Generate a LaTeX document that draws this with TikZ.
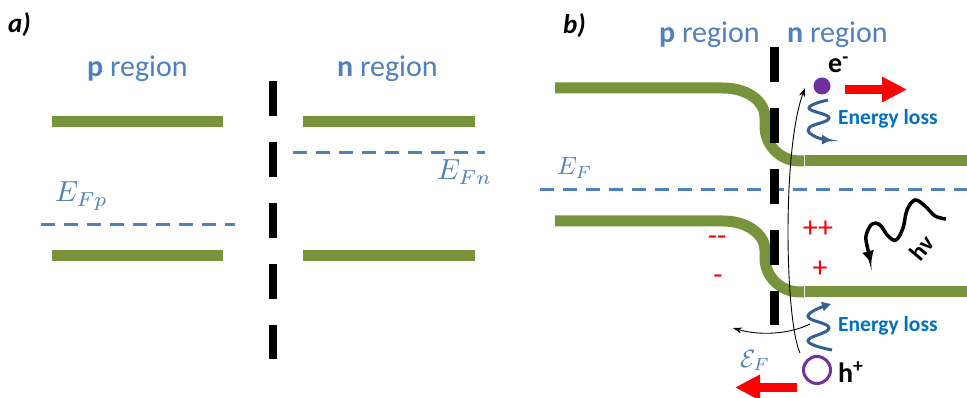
\documentclass[tikz,border=0pt]{standalone}
\usepackage{graphicx}
\usepackage{fontspec}
\setmainfont{Carlito}
\usetikzlibrary{arrows.meta}
\definecolor{bandgreen}{RGB}{119,147,60}
\definecolor{labelblue}{RGB}{79,129,189}
\definecolor{lossblue}{RGB}{0,112,192}
\definecolor{wiggleblue}{RGB}{54,96,146}
\definecolor{carrierpurple}{RGB}{112,48,160}
\begin{document}
\begin{tikzpicture}[x=1pt,y=-1pt,
  band/.style={bandgreen, line width=11pt},
  fermi/.style={labelblue, line width=3pt, dash pattern=on 14pt off 9pt},
  junction/.style={black, line width=8.5pt, dash pattern=on 35pt off 26pt},
  region/.style={labelblue, font=\fontsize{30}{36}\selectfont, anchor=base west, inner sep=0pt},
  panel/.style={font=\fontsize{27}{32}\selectfont\bfseries\itshape, anchor=base west, inner sep=0pt},
  loss/.style={lossblue, font=\fontsize{21.5}{26}\selectfont\bfseries, anchor=base west, inner sep=0pt},
  wiggle/.style={wiggleblue, line width=3pt, -{Triangle[length=9pt,width=9pt]}},
  redarrow/.style={red, line width=9pt, -{Triangle[length=25pt,width=24pt]}},
  thinarrow/.style={black, line width=0.9pt, -{Stealth[length=9pt,width=6pt]}},
  charge/.style={red, font=\fontsize{30}{36}\selectfont, inner sep=0pt},
  carrier/.style={font=\fontsize{28}{32}\selectfont\bfseries, anchor=base west, inner sep=0pt},
  mathlbl/.style={labelblue, font=\fontsize{10}{12}\selectfont, anchor=base west, inner sep=0pt},
]
\useasboundingbox[fill=white] (0,0) rectangle (967,398);

% ---------- panel a ----------
\node[panel] (la) at (8,33) {a)};
\node[region] (pa) at (87,77) {\textbf{p} region};
\node[region] (na) at (337,77) {\textbf{n} region};
\draw[band] (52,122) -- (223,122);
\draw[band] (52,256) -- (223,256);
\draw[band] (303,122) -- (475,122);
\draw[band] (303,256) -- (475,256);
\draw[fermi] (41,225) -- (235,225);
\draw[fermi] (293,153) -- (485,153);
\node[mathlbl] (efp) at (55,202) {\scalebox{2.9}{$E_{Fp}$}};
\node[mathlbl] (efn) at (437,180) {\scalebox{2.9}{$E_{Fn}$}};
\draw[junction] (273,81) -- (273,359);

% ---------- panel b ----------
\node[panel] (lb) at (563,34) {b)};
\node[region] (pb) at (659,43) {\textbf{p} region};
\node[region] (nb) at (787,43) {\textbf{n} region};
\draw[band] (555,88) -- (723,88) .. controls (748,88) and (765,102) .. (765,117) -- (765,126)
  .. controls (765,146) and (781,161) .. (800,161) -- (804,161);
\draw[band] (805,161) -- (967,161);
\draw[band] (555,221) -- (723,221) .. controls (748,221) and (765,235) .. (765,250) -- (765,258)
  .. controls (765,277) and (781,292) .. (800,292) -- (804,292);
\draw[band] (805,292) -- (967,292);
\draw[fermi] (540,190) -- (967,190);
\node[mathlbl] (ef) at (557,175) {\scalebox{2.5}{$E_F$}};
\draw[junction] (774.5,47) -- (774.5,325);

% carriers
\node[circle, fill=carrierpurple, minimum size=17pt, inner sep=0pt] (electron) at (822,86) {};
\node[circle, draw=carrierpurple, line width=3pt, minimum size=27pt, inner sep=0pt] (hole) at (817,370) {};
\node[carrier] (elab) at (828,73) {e\textsuperscript{-}};
\node[carrier] (hlab) at (838,382) {h\textsuperscript{+}};

% energy loss
\draw[wiggle] plot[smooth, tension=0.8] coordinates {(828,100) (809,108) (829,118) (809,128) (816,137) (831,140)};
\node[loss] (loss1) at (838,125) {Energy loss};
\draw[wiggle] plot[smooth, tension=0.8] coordinates {(832,350) (808,341) (829,328) (808,316) (831,304)};
\node[loss] (loss2) at (838,331) {Energy loss};

% red arrows
\coordinate (eR0) at (845,89.5);
\coordinate (eR1) at (907,89.5);
\coordinate (hR0) at (797,387.5);
\coordinate (hR1) at (735,387.5);
\draw[redarrow] (eR0) -- (eR1);
\draw[redarrow] (hR0) -- (hR1);

% thin arrows
\coordinate (c0) at (800,353);
\coordinate (c1) at (805,88);
\draw[thinarrow] (c0) .. controls (785,320) and (782,150) .. (c1);
\coordinate (f0) at (810,324);
\coordinate (f1) at (733,328);
\draw[thinarrow] (f0) .. controls (790,334) and (760,336) .. (f1);
\node[mathlbl] (field) at (740,367) {\scalebox{2.5}{$\mathcal{E}_F$}};

% charges
\node[charge] (pp) at (818,229) {++};
\node[charge] (p1) at (820,269) {+};
\node[charge] (m2) at (717,241) {-{}-};
\node[charge] (m1) at (718,280) {-};

% photon
\draw[black, line width=3.5pt, -{Triangle[length=11pt,width=11pt]}] plot[smooth, tension=0.6] coordinates {(946,219) (935,216) (925,206) (915,200) (907,210) (903,228) (896,240) (888,236) (880,225) (872,224) (866,236) (868,250) (871,262)};
\node[font=\fontsize{24}{28}\selectfont\bfseries, rotate=50, inner sep=0pt] (hv) at (922,248) {hv};
\end{tikzpicture}
\end{document}
